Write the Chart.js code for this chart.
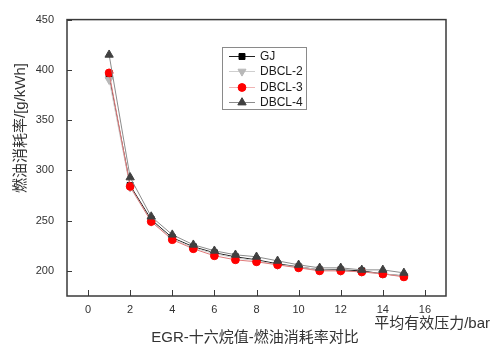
<!DOCTYPE html>
<html>
<head>
<meta charset="utf-8">
<script src="https://cdn.jsdelivr.net/npm/chart.js@4/dist/chart.umd.min.js"></script>
<style>
  html, body { margin: 0; padding: 0; background: #fff; }
  #wrap { position: relative; width: 492px; height: 349px; }
</style>
</head>
<body>
<div id="wrap"><canvas id="bsfcChart"></canvas></div>
<script>
// Mean effective pressure (bar)
const pressure = [1, 2, 3, 4, 5, 6, 7, 8, 9, 10, 11, 12, 13, 14, 15];

// Fuel consumption rate [g/kWh] per fuel
const gjValues    = [394, 285, 251, 233, 224, 218, 214, 211, 207, 204, 201, 201, 200, 197, 195];
const dbcl2Values = [390, 283, 249, 232, 223, 217, 213, 210, 206, 204, 201, 200, 199, 197, 195];
const dbcl3Values = [397, 284, 249, 231, 222, 215, 211, 209, 206, 203, 200, 200, 199, 197, 194];
const dbcl4Values = [415, 293, 254, 236, 226, 220, 216, 214, 210, 206, 203, 203, 201, 201, 198];

const xTicks = [0, 2, 4, 6, 8, 10, 12, 14, 16];
const yTicks = [200, 250, 300, 350, 400, 450];

const seriesNames = ['GJ', 'DBCL-2', 'DBCL-3', 'DBCL-4'];

const FONT = '"Liberation Sans", Arial, "Noto Sans CJK SC", sans-serif';
const AXIS_COLOR = '#3a3a3a';

function toPoints(values) {
  return pressure.map((p, i) => ({ x: p, y: values[i] }));
}

const datasets = [
  {
    label: seriesNames[0],
    data: toPoints(gjValues),
    borderColor: '#202020',
    backgroundColor: '#000000',
    pointBorderColor: '#000000',
    pointStyle: 'rect',
    pointRadius: 4.2,
    pointRotation: 0,
    order: 4
  },
  {
    label: seriesNames[1],
    data: toPoints(dbcl2Values),
    borderColor: '#cfcfcf',
    backgroundColor: '#b8b8b8',
    pointBorderColor: '#b8b8b8',
    pointStyle: 'triangle',
    pointRadius: 4.6,
    pointRotation: 180,
    order: 3
  },
  {
    label: seriesNames[2],
    data: toPoints(dbcl3Values),
    borderColor: '#e07a7a',
    backgroundColor: '#ff0000',
    pointBorderColor: '#ff0000',
    pointStyle: 'circle',
    pointRadius: 3.9,
    pointRotation: 0,
    order: 2
  },
  {
    label: seriesNames[3],
    data: toPoints(dbcl4Values),
    borderColor: '#8c8c8c',
    backgroundColor: '#404040',
    pointBorderColor: '#404040',
    pointStyle: 'triangle',
    pointRadius: 4.8,
    pointRotation: 0,
    order: 1
  }
];

datasets.forEach(ds => {
  ds.borderWidth = 1;
  ds.pointBorderWidth = 1;
  ds.tension = 0;
  ds.fill = false;
});

// Frame, inward ticks, legend box and titles
const decorations = {
  id: 'decorations',
  afterDraw(chart) {
    const { ctx, chartArea: a, scales } = chart;
    ctx.save();

    // ticks pointing into the plot
    ctx.strokeStyle = AXIS_COLOR;
    ctx.lineWidth = 1;
    ctx.beginPath();
    xTicks.forEach(v => {
      const px = Math.round(scales.x.getPixelForValue(v)) + 0.5;
      ctx.moveTo(px, a.bottom);
      ctx.lineTo(px, a.bottom - 6);
    });
    yTicks.forEach(v => {
      const py = Math.round(scales.y.getPixelForValue(v)) + 0.5;
      ctx.moveTo(a.left, py);
      ctx.lineTo(a.left + 5, py);
    });
    ctx.stroke();

    // plot frame
    ctx.lineWidth = 1.5;
    ctx.strokeStyle = AXIS_COLOR;
    ctx.strokeRect(a.left, a.top, a.right - a.left, a.bottom - a.top);

    // legend
    const lx = 222.5, ly = 47.5, lw = 84, lh = 62;
    ctx.lineWidth = 1;
    ctx.strokeStyle = '#8a8a8a';
    ctx.fillStyle = '#ffffff';
    ctx.fillRect(lx, ly, lw, lh);
    ctx.strokeRect(lx, ly, lw, lh);
    const rowY = [56, 71, 87, 102];
    const legendDatasets = [...datasets].sort((p, q) => seriesNames.indexOf(p.label) - seriesNames.indexOf(q.label));
    legendDatasets.forEach((ds, i) => {
      const y = rowY[i];
      ctx.strokeStyle = ds.label === 'DBCL-3' ? '#f0b4b4' : ds.borderColor;
      ctx.lineWidth = 1;
      ctx.beginPath();
      ctx.moveTo(229, y + 0.5);
      ctx.lineTo(255, y + 0.5);
      ctx.stroke();
      ctx.fillStyle = ds.backgroundColor;
      ctx.strokeStyle = ds.pointBorderColor;
      Chart.helpers.drawPoint(ctx, {
        pointStyle: ds.pointStyle,
        radius: ds.pointRadius,
        rotation: ds.pointRotation,
        borderWidth: 1
      }, 242, y + 0.5);
      ctx.fillStyle = '#1a1a1a';
      ctx.font = '12px ' + FONT;
      ctx.textAlign = 'left';
      ctx.textBaseline = 'middle';
      ctx.fillText(ds.label, 260, y + 1);
    });

    // axis titles
    ctx.fillStyle = '#333333';
    ctx.font = '15px ' + FONT;
    ctx.textBaseline = 'middle';
    ctx.textAlign = 'right';
    ctx.fillText('平均有效压力/bar', 490, 324);
    ctx.textAlign = 'center';
    ctx.fillText('EGR-十六烷值-燃油消耗率对比', 255, 338);

    ctx.translate(21, 128);
    ctx.rotate(-Math.PI / 2);
    ctx.fillText('燃油消耗率/[g/kWh]', 0, 0);
    ctx.restore();
  }
};

new Chart(document.getElementById('bsfcChart'), {
  type: 'line',
  data: { datasets: datasets },
  plugins: [decorations],
  options: {
    responsive: true,
    maintainAspectRatio: false,
    animation: false,
    layout: { padding: { top: 15, right: 46, left: 0, bottom: 0 } },
    plugins: {
      legend: { display: false },
      tooltip: { enabled: false }
    },
    scales: {
      x: {
        type: 'linear',
        min: -1,
        max: 17,
        afterBuildTicks: axis => { axis.ticks = xTicks.map(v => ({ value: v })); },
        afterFit: axis => { axis.height = 53; },
        grid: { drawOnChartArea: false, drawTicks: false },
        border: { display: false },
        ticks: {
          padding: 7,
          color: '#333333',
          font: { family: FONT, size: 11 },
          maxRotation: 0
        }
      },
      y: {
        min: 175,
        max: 450,
        afterBuildTicks: axis => { axis.ticks = yTicks.map(v => ({ value: v })); },
        afterFit: axis => { axis.width = 67; },
        grid: { drawOnChartArea: false, drawTicks: false },
        border: { display: false },
        ticks: {
          padding: 13,
          color: '#333333',
          font: { family: FONT, size: 11 }
        }
      }
    }
  }
});
</script>
</body>
</html>
